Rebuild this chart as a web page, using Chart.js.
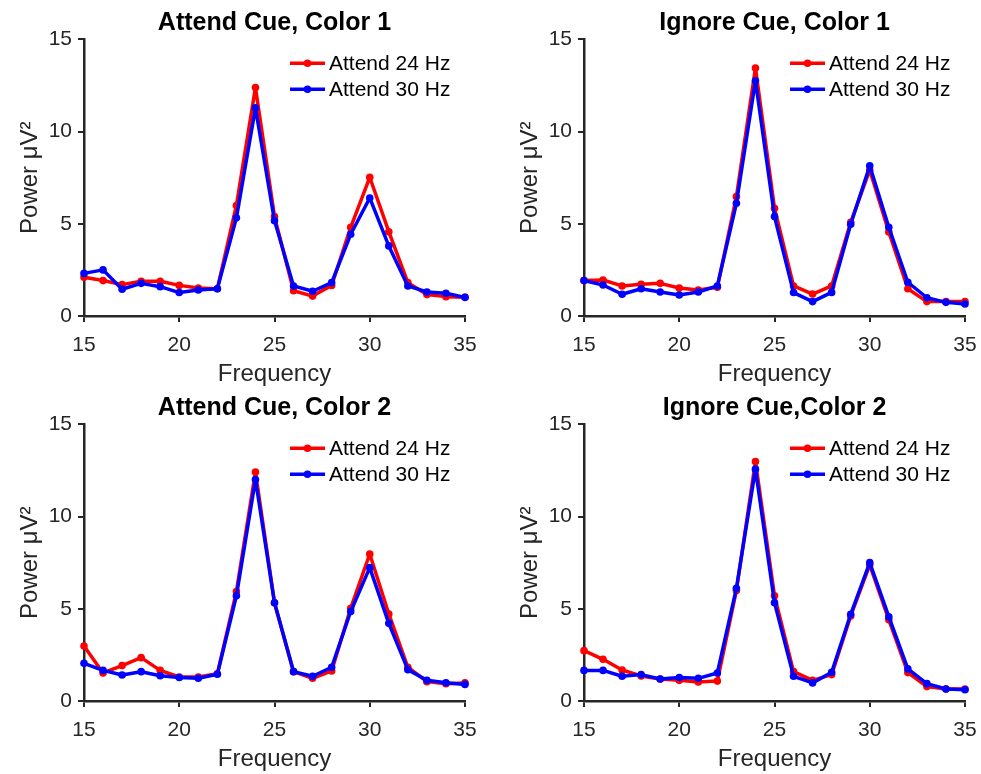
<!DOCTYPE html>
<html><head><meta charset="utf-8">
<script src="https://cdn.jsdelivr.net/npm/chart.js@4/dist/chart.umd.min.js"></script>
<style>
html,body{margin:0;padding:0;background:#fff;}
body{width:981px;height:774px;position:relative;overflow:hidden;}
.p{position:absolute;}
</style></head><body>
<div class="p" style="left:0px;top:0px;width:490px;height:391px"><canvas id="c1"></canvas></div>
<div class="p" style="left:500px;top:0px;width:481px;height:391px"><canvas id="c2"></canvas></div>
<div class="p" style="left:0px;top:385px;width:490px;height:391px"><canvas id="c3"></canvas></div>
<div class="p" style="left:500px;top:385px;width:481px;height:391px"><canvas id="c4"></canvas></div>
<script>
const frequencies = [15,16,17,18,19,20,21,22,23,24,25,26,27,28,29,30,31,32,33,34,35];
const seriesLabels = ['Attend 24 Hz','Attend 30 Hz'];
const panelTitles = ['Attend Cue, Color 1','Ignore Cue, Color 1','Attend Cue, Color 2','Ignore Cue,Color 2'];
const xTicks = [15,20,25,30,35];
const yTicks = [0,5,10,15];

const attendColor1_24 = [2.10,1.92,1.70,1.88,1.88,1.66,1.52,1.48,5.99,12.39,5.39,1.37,1.08,1.66,4.81,7.52,4.57,1.81,1.16,1.05,1.01];
const attendColor1_30 = [2.31,2.50,1.45,1.77,1.59,1.27,1.41,1.48,5.32,11.28,5.17,1.63,1.34,1.81,4.43,6.40,3.80,1.63,1.30,1.23,1.01];
const ignoreColor1_24 = [1.92,1.95,1.63,1.72,1.77,1.52,1.41,1.56,6.47,13.44,5.84,1.63,1.19,1.63,5.08,7.92,4.56,1.48,0.78,0.78,0.78];
const ignoreColor1_30 = [1.92,1.68,1.18,1.48,1.30,1.14,1.30,1.63,6.11,12.75,5.39,1.27,0.78,1.28,4.97,8.14,4.81,1.83,0.99,0.74,0.65];
const attendColor2_24 = [2.98,1.52,1.92,2.35,1.66,1.30,1.30,1.48,5.93,12.41,5.33,1.59,1.23,1.63,5.03,7.97,4.72,1.83,1.05,0.94,0.98];
const attendColor2_30 = [2.04,1.66,1.41,1.59,1.37,1.27,1.23,1.45,5.70,12.01,5.33,1.59,1.34,1.83,4.85,7.23,4.21,1.70,1.12,0.99,0.90];
const ignoreColor2_24 = [2.73,2.26,1.68,1.36,1.19,1.12,1.03,1.08,5.99,12.98,5.70,1.59,1.12,1.43,4.61,7.38,4.41,1.54,0.78,0.65,0.65];
const ignoreColor2_30 = [1.66,1.66,1.34,1.43,1.19,1.27,1.23,1.52,6.11,12.57,5.33,1.34,0.98,1.56,4.70,7.50,4.57,1.74,0.94,0.65,0.61];

const FONT = '"Liberation Sans", Arial, Helvetica, sans-serif';
const AXIS = '#262626';

const insideLegend = {
  id: 'insideLegend',
  afterDatasetsDraw(chart) {
    const {ctx, chartArea: a} = chart;
    ctx.save();
    chart.data.datasets.forEach((ds, i) => {
      const y = a.top + 24 + i * 26;
      const x0 = a.right - 175, x1 = a.right - 140;
      ctx.strokeStyle = ds.borderColor;
      ctx.lineWidth = 3.5;
      ctx.beginPath(); ctx.moveTo(x0, y); ctx.lineTo(x1, y); ctx.stroke();
      ctx.fillStyle = ds.borderColor;
      ctx.beginPath(); ctx.arc((x0 + x1) / 2, y, 3.8, 0, Math.PI * 2); ctx.fill();
      ctx.fillStyle = '#000';
      ctx.font = '21px ' + FONT;
      ctx.textBaseline = 'middle';
      ctx.textAlign = 'left';
      ctx.fillText(ds.label, x1 + 4, y + 1);
    });
    ctx.restore();
  }
};

function makePanel(id, title, red, blue, rightPad) {
  const mk = (vals) => frequencies.map((f, i) => ({x: f, y: vals[i]}));
  const common = {pointBorderWidth: 0, pointRadius: 3.8, borderWidth: 3.5, clip: false, tension: 0,
                  borderJoinStyle: 'round', borderCapStyle: 'round'};
  new Chart(document.getElementById(id), {
    type: 'line',
    data: {
      datasets: [
        Object.assign({label: seriesLabels[0], data: mk(red), borderColor: '#ff0000', backgroundColor: '#ff0000',
         pointBackgroundColor: '#ff0000', order: 1}, common),
        Object.assign({label: seriesLabels[1], data: mk(blue), borderColor: '#0000ff', backgroundColor: '#0000ff',
         pointBackgroundColor: '#0000ff', order: 0}, common)
      ]
    },
    options: {
      responsive: true, maintainAspectRatio: false, animation: false,
      layout: {padding: {left: 0, right: rightPad, top: 0, bottom: 0}},
      plugins: {
        legend: {display: false},
        tooltip: {enabled: false},
        title: {display: true, text: title, fullSize: false, color: '#000',
                font: {family: FONT, size: 25, weight: 'bold'}, padding: {top: 8, bottom: 1.3}}
      },
      scales: {
        x: {
          type: 'linear', min: 15, max: 35,
          afterFit: (s) => { s.height = 75; s.paddingLeft = 0; s.paddingRight = 0; },
          afterBuildTicks: (s) => { s.ticks = xTicks.map(v => ({value: v})); },
          border: {display: true, color: AXIS, width: 2.5},
          grid: {display: true, drawOnChartArea: false, drawTicks: true, tickLength: 6, color: AXIS, lineWidth: 2},
          ticks: {color: AXIS, font: {family: FONT, size: 21}, padding: 11, maxRotation: 0, autoSkip: false},
          title: {display: true, text: 'Frequency', color: AXIS, font: {family: FONT, size: 24}, padding: {top: 0, bottom: 2}}
        },
        y: {
          type: 'linear', min: 0, max: 15,
          afterFit: (s) => { s.width = 84; s.paddingTop = 0; s.paddingBottom = 0; },
          afterBuildTicks: (s) => { s.ticks = yTicks.map(v => ({value: v})); },
          border: {display: true, color: AXIS, width: 2.5},
          grid: {display: true, drawOnChartArea: false, drawTicks: true, tickLength: 6, color: AXIS, lineWidth: 2},
          ticks: {color: AXIS, font: {family: FONT, size: 21}, padding: 6},
          title: {display: true, text: 'Power μV²', color: AXIS, font: {family: FONT, size: 24}, padding: {top: 15.6, bottom: 0}}
        }
      }
    },
    plugins: [insideLegend]
  });
}

makePanel('c1', panelTitles[0], attendColor1_24, attendColor1_30, 25);
makePanel('c2', panelTitles[1], ignoreColor1_24, ignoreColor1_30, 16);
makePanel('c3', panelTitles[2], attendColor2_24, attendColor2_30, 25);
makePanel('c4', panelTitles[3], ignoreColor2_24, ignoreColor2_30, 16);
</script>
</body></html>
